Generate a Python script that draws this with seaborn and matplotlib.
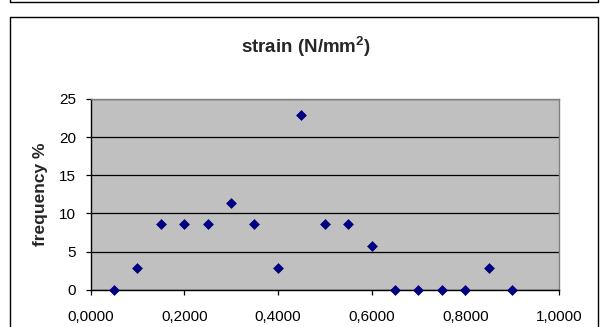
import matplotlib
matplotlib.use("Agg")
import matplotlib.pyplot as plt
from matplotlib.lines import Line2D
from matplotlib.ticker import FuncFormatter, MultipleLocator
import seaborn as sns
import pandas as pd

# ---- data ----
strain = [0.05, 0.10, 0.15, 0.20, 0.25, 0.30, 0.35, 0.40, 0.45,
          0.50, 0.55, 0.60, 0.65, 0.70, 0.75, 0.80, 0.85, 0.90]
frequency = [0.00, 2.86, 8.57, 8.57, 8.57, 11.43, 8.57, 2.86, 22.86,
             8.57, 8.57, 5.71, 0.00, 0.00, 0.00, 0.00, 2.86, 0.00]
title = r"strain (N/mm$^{\mathbf{2}}$)"
ylabel = "frequency %"

df = pd.DataFrame({"strain": strain, "frequency": frequency})

sns.set_style("white")
plt.rcParams["font.family"] = ["Liberation Sans", "DejaVu Sans"]
plt.rcParams["mathtext.fontset"] = "custom"
plt.rcParams["mathtext.rm"] = "Liberation Sans"
plt.rcParams["mathtext.bf"] = "Liberation Sans:bold"

W, H = 600, 327
fig = plt.figure(figsize=(W / 100, H / 100), dpi=100)
fig.patch.set_facecolor("white")

left, right, top, bottom = 90.5, 559.0, 99.0, 289.7
ax = fig.add_axes([left / W, 1 - bottom / H, (right - left) / W, (bottom - top) / H])
ax.set_facecolor("#C0C0C0")

sns.scatterplot(data=df, x="strain", y="frequency", ax=ax, marker="D",
                s=25, color="#000080", edgecolor="#000080", linewidth=0.5,
                zorder=3, clip_on=False)

ax.set_xlim(0, 1.0)
ax.set_ylim(0, 25)
ax.xaxis.set_major_locator(MultipleLocator(0.2))
ax.yaxis.set_major_locator(MultipleLocator(5))
ax.xaxis.set_major_formatter(FuncFormatter(lambda v, p: f"{v:.4f}".replace(".", ",")))
ax.yaxis.set_major_formatter(FuncFormatter(lambda v, p: f"{int(round(v))}"))
ax.set_xlabel("")
ax.set_ylabel("")

ax.grid(axis="y", color="black", linewidth=0.9)
ax.set_axisbelow(True)
for s in ["top", "right"]:
    ax.spines[s].set_color("#808080")
    ax.spines[s].set_linewidth(1.0)
for s in ["left", "bottom"]:
    ax.spines[s].set_color("black")
    ax.spines[s].set_linewidth(1.0)

ax.tick_params(axis="both", which="major", direction="out", length=3.6,
               width=0.9, color="black", labelsize=11, labelcolor="black",
               left=True, bottom=True)
ax.tick_params(axis="x", pad=11)
ax.tick_params(axis="y", pad=7)

fig.text(306 / W, 1 - 47 / H, title, ha="center", va="center",
         fontsize=13.5, fontweight="bold")
fig.text(40 / W, 1 - 194 / H, ylabel, ha="center", va="center",
         rotation=90, fontsize=12.5, fontweight="bold")

# outer chart frame
def fline(x0, y0, x1, y1):
    fig.add_artist(Line2D([x0 / W, x1 / W], [1 - y0 / H, 1 - y1 / H],
                          color="black", linewidth=1.0, transform=fig.transFigure))

fline(9.5, 16.5, 597.5, 16.5)
fline(9.5, 16.5, 9.5, 330)
fline(597.5, 16.5, 597.5, 330)
# upper neighbouring frame
fline(9.5, 2.0, 597.5, 2.0)
fline(9.5, -3, 9.5, 2.0)
fline(597.5, -3, 597.5, 2.0)

fig.savefig("out.png", dpi=100)
